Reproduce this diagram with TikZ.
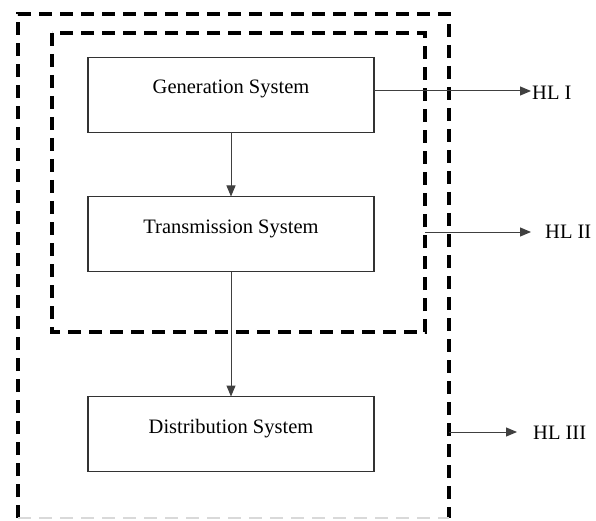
\documentclass[tikz,border=0pt]{standalone}
\usepackage{fontspec}
\setmainfont{Liberation Serif}
\usetikzlibrary{arrows.meta}
\begin{document}
\begin{tikzpicture}[x=1pt,y=-1pt,
  sysbox/.style={draw=black!80,line width=1.1pt,minimum width=286pt,minimum height=75pt,inner sep=0pt,outer sep=0pt},
  dashbox/.style={line width=3.6pt,dash pattern=on 13pt off 8pt},
  conn/.style={draw=black!75,line width=1pt,-{Triangle[length=11pt,width=9pt]}},
  lbl/.style={font=\fontsize{20.5}{23}\selectfont,anchor=west,inner sep=0pt},
  txt/.style={font=\fontsize{20.5}{23}\selectfont}]
\useasboundingbox (0,0) rectangle (596,521);
% outer dashed frame
\draw[dashbox] (18,518) -- (18,14) -- (449,14) -- (449,518);
\draw[dashbox,black!15,line width=2pt] (18,518) -- (449,518);
% inner dashed frame
\draw[dashbox] (52,33) rectangle (425,332);
% boxes
\node[sysbox] (gen) at (231,95) {};
\node[txt] at ([yshift=6pt]gen.center) {Generation System};
\node[sysbox] (trans) at (231,234) {};
\node[txt] at ([yshift=5pt]trans.center) {Transmission System};
\node[sysbox] (dist) at (231,434) {};
\node[txt] at ([yshift=5pt]dist.center) {Distribution System};
% level labels
\node[lbl] (hl1) at (532,93) {HL I};
\node[lbl] (hl2) at (545,232) {HL II};
\node[lbl] (hl3) at (533,433) {HL III};
\coordinate (e1) at (531,91);
\coordinate (e2) at (531,232);
\coordinate (e3) at (517,432);
\coordinate (s2) at (425,232);
\coordinate (s3) at (449,432);
% connectors
\draw[conn] (gen.south) -- (trans.north);
\draw[conn] (trans.south) -- (dist.north);
\draw[conn] (gen.east |- e1) -- (e1);
\draw[conn] (s2) -- (e2);
\draw[conn] (s3) -- (e3);
\end{tikzpicture}
\end{document}
